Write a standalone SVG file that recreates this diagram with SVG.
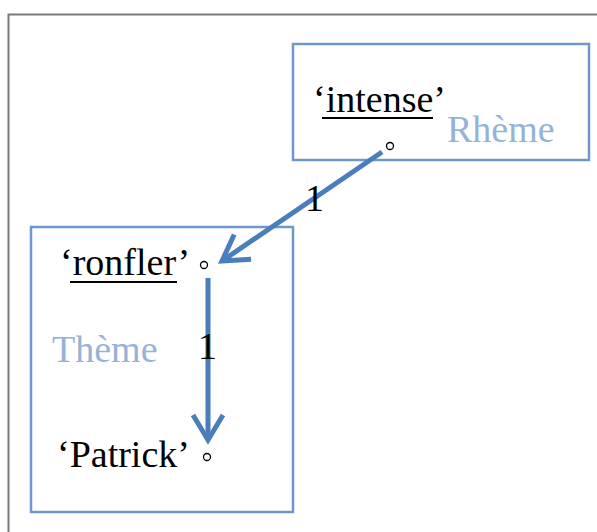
<svg xmlns="http://www.w3.org/2000/svg" width="597" height="532" viewBox="0 0 597 532">
<defs>
<style>
.box{fill:none;stroke:#7097cc;stroke-width:2.5}
.t{font-family:'Liberation Serif','Times New Roman',serif;font-size:38px;fill:#000}
.lbl{font-family:'Liberation Serif','Times New Roman',serif;font-size:38px;fill:#95b3d7}
.ul{stroke:#000;stroke-width:2}
.dot{fill:none;stroke:#000;stroke-width:1.3}
.edge{fill:none;stroke:#4a7ebb;stroke-width:5;marker-end:url(#head)}
</style>
<marker id="head" markerUnits="userSpaceOnUse" viewBox="-30 -20 36 40" refX="0" refY="0" markerWidth="36" markerHeight="40" orient="auto" overflow="visible">
<path d="M-25,-15 L0,0 L-25,15" fill="none" stroke="#4a7ebb" stroke-width="5"/>
</marker>
</defs>
<rect width="597" height="532" fill="#fff"/>
<path d="M8.5,532 V14.5 H597" fill="none" stroke="#7a7a7a" stroke-width="2"/>
<g id="rheme">
<rect class="box" x="293" y="44" width="296" height="116"/>
<text class="t" x="313" y="112">‘intense’</text>
<line class="ul" x1="322" y1="118" x2="433" y2="118"/>
<circle class="dot" cx="390" cy="146" r="3.5"/>
<text class="lbl" x="447" y="142">Rhème</text>
</g>
<g id="theme">
<rect class="box" x="31" y="227" width="262" height="285"/>
<text class="lbl" x="52" y="362">Thème</text>
</g>
<g id="ronfler">
<text class="t" x="60" y="275">‘ronfler’</text>
<line class="ul" x1="70" y1="282" x2="177" y2="282"/>
<circle class="dot" cx="204" cy="265" r="3.5"/>
</g>
<g id="patrick">
<text class="t" x="57" y="467">‘Patrick’</text>
<circle class="dot" cx="207" cy="457" r="3.5"/>
</g>
<g id="connectors">
<line class="edge" x1="382" y1="152" x2="222" y2="261"/>
<text class="t" x="305" y="211">1</text>
<line class="edge" x1="208" y1="278" x2="208" y2="440"/>
<text class="t" x="198" y="359">1</text>
</g>
</svg>
